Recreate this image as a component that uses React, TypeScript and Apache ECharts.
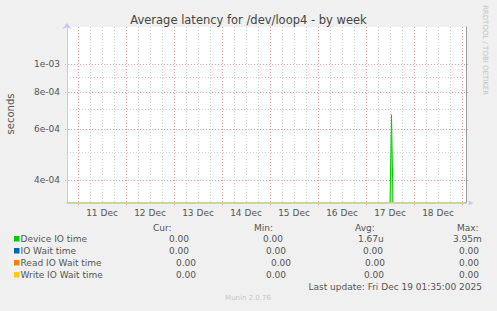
import React, { useEffect, useRef } from 'react';
import * as echarts from 'echarts';

// ---- data ----
const titleText = 'Average latency for /dev/loop4 - by week';
const yAxisTitle = 'seconds';
const sideText = 'RRDTOOL / TOBI OETIKER';
const footerText = 'Munin 2.0.76';
const lastUpdate = 'Last update: Fri Dec 19 01:35:00 2025';

const rangeStart = '2025-12-10T18:30:00Z';
const rangeEnd = '2025-12-19T02:00:00Z';
const yMinValue = 3.336e-4;
const yMaxValue = 1.34e-3;

const dayLabels = ['11 Dec', '12 Dec', '13 Dec', '14 Dec', '15 Dec', '16 Dec', '17 Dec', '18 Dec'];
const dayLabelTimes = [
  '2025-12-11T12:00:00Z', '2025-12-12T12:00:00Z', '2025-12-13T12:00:00Z', '2025-12-14T12:00:00Z',
  '2025-12-15T12:00:00Z', '2025-12-16T12:00:00Z', '2025-12-17T12:00:00Z', '2025-12-18T12:00:00Z',
];
const majorYValues = [1e-3, 8e-4, 6e-4, 4e-4];
const majorYLabels = ['1e-03', '8e-04', '6e-04', '4e-04'];
const minorYValues = [9e-4, 7e-4, 5e-4];

const deviceTimes = [
  '2025-12-10T18:30:00Z', '2025-12-17T12:00:00Z', '2025-12-17T12:45:00Z',
  '2025-12-17T13:30:00Z', '2025-12-19T02:00:00Z',
];
const deviceValues = [0, 0, 6.7e-4, 0, 0];

const seriesNames = ['Device IO time', 'IO Wait time', 'Read IO Wait time', 'Write IO Wait time'];
const seriesColors = ['#00cc00', '#0066b3', '#ff8000', '#ffcc00'];
const curValues = ['0.00', '0.00', '0.00', '0.00'];
const minValues = ['0.00', '0.00', '0.00', '0.00'];
const avgValues = ['1.67u', '0.00', '0.00', '0.00'];
const maxValues = ['3.95m', '0.00', '0.00', '0.00'];

// ---- layout / style ----
const FONT = 'DejaVu Sans';
const HOUR = 3600 * 1000;
const RED_GRID = '#f4a0a0';
const GRAY_GRID = '#d0d0d0';

export default function App() {
  const ref = useRef<HTMLDivElement>(null);

  useEffect(() => {
    if (!ref.current) return;
    const chart = echarts.init(ref.current, undefined, { renderer: 'svg' });
    const xMin = Date.parse(rangeStart);
    const xMax = Date.parse(rangeEnd);

    const deviceData = deviceTimes.map((t, i) => [Date.parse(t), Math.max(deviceValues[i], yMinValue)]);

    chart.setOption({
      animation: false,
      backgroundColor: '#f0f0f0',
      textStyle: { fontFamily: FONT },
      grid: {
        left: 67, top: 27, width: 399, height: 176,
        show: true, backgroundColor: '#ffffff', borderWidth: 0,
      },
      xAxis: {
        type: 'value', min: xMin, max: xMax, z: 5,
        axisLine: { show: true, lineStyle: { color: '#dcd0a0', width: 1.5 } },
        axisTick: { show: false }, axisLabel: { show: false }, splitLine: { show: false },
      },
      yAxis: [
        {
          type: 'log', logBase: 10, min: yMinValue, max: yMaxValue, z: 5,
          axisLine: {
            show: true, lineStyle: { color: '#c8c8f4', width: 1 },
            symbol: ['none', 'arrow'], symbolSize: [7, 6], symbolOffset: [0, 4],
          },
          axisTick: { show: false }, axisLabel: { show: false }, splitLine: { show: false },
        },
        {
          type: 'value', position: 'right', min: 0, max: 1, z: 5,
          axisLine: { show: true, lineStyle: { color: '#999999', width: 1 } },
          axisTick: { show: false }, axisLabel: { show: false }, splitLine: { show: false },
        },
      ],
      series: [
        {
          type: 'line', name: seriesNames[0], data: deviceData, showSymbol: false,
          lineStyle: { color: seriesColors[0], width: 1 },
          areaStyle: { color: '#66dd66', origin: 'start' },
          z: 2,
        },
      ],
    });

    const px = (t: number) => chart.convertToPixel({ xAxisIndex: 0 }, t) as number;
    const py = (v: number) => chart.convertToPixel({ yAxisIndex: 0 }, v) as number;
    const txt = (text: string, x: number, y: number, o: any = {}) => ({
      type: 'text', x, y, rotation: o.rotation || 0, silent: true, z: 10,
      style: {
        text, fontFamily: FONT, fontSize: o.size || 9, fill: o.color || '#555555',
        align: o.align || 'left', verticalAlign: 'middle',
      },
    });
    const gl = (x1: number, y1: number, x2: number, y2: number, color: string) => ({
      type: 'line', silent: true, z: 1,
      shape: { x1, y1, x2, y2 },
      style: { stroke: color, fill: null, lineWidth: 1, lineDash: [1, 2] },
    });

    const top = py(yMaxValue);
    const bottom = py(yMinValue);
    const left = px(xMin);
    const right = px(xMax);

    const g: any[] = [];
    // vertical grid lines every 6h, red at midnight
    for (let t = Math.ceil(xMin / (6 * HOUR)) * 6 * HOUR; t < xMax; t += 6 * HOUR) {
      const major = t % (24 * HOUR) === 0;
      const x = Math.round(px(t)) + 0.5;
      g.push(gl(x, top, x, major ? bottom + 3 : bottom, major ? RED_GRID : GRAY_GRID));
    }
    minorYValues.forEach((v) => {
      const y = Math.round(py(v)) + 0.5;
      g.push(gl(left, y, right, y, GRAY_GRID));
    });
    majorYValues.forEach((v) => {
      const y = Math.round(py(v)) + 0.5;
      g.push(gl(left - 2, y, right + 3, y, RED_GRID));
    });

    g.push(txt(titleText, 248.5, 20, { size: 11.5, color: '#444444', align: 'center' }));
    g.push(txt(yAxisTitle, 10.5, 114, { size: 10, rotation: Math.PI / 2, align: 'center' }));
    g.push(txt(sideText, 485, 5, { size: 7, color: '#c4c4c4', rotation: -Math.PI / 2 }));
    majorYLabels.forEach((l, i) => g.push(txt(l, 60, py(majorYValues[i]), { align: 'right' })));
    dayLabels.forEach((l, i) => g.push(txt(l, px(Date.parse(dayLabelTimes[i])), 213, { align: 'center' })));
    g.push({
      type: 'polygon', silent: true, z: 10,
      shape: { points: [[468.5, 200.5], [473.5, 203], [468.5, 205.5]] },
      style: { fill: '#c8c8f4' },
    });

    // legend table
    const rowY = [239, 251, 263, 275];
    const curX = [169, 169, 176, 176];
    const minX = [263, 266, 271, 266];
    const avgX = [358, 363, 365, 364];
    const maxX = [453, 459, 459, 459];
    g.push(txt('Cur:', 153, 227.5));
    g.push(txt('Min:', 254, 227.5));
    g.push(txt('Avg:', 355, 227.5));
    g.push(txt('Max:', 457, 227.5));
    seriesNames.forEach((n, i) => {
      g.push({
        type: 'rect', silent: true, z: 10,
        shape: { x: 14, y: rowY[i] - 3, width: 5.5, height: 5.5 },
        style: { fill: seriesColors[i] },
      });
      g.push(txt(n, 20.5, rowY[i]));
      g.push(txt(curValues[i], curX[i], rowY[i]));
      g.push(txt(minValues[i], minX[i], rowY[i]));
      g.push(txt(avgValues[i], avgX[i], rowY[i]));
      g.push(txt(maxValues[i], maxX[i], rowY[i]));
    });
    g.push(txt(lastUpdate, 482, 287, { align: 'right' }));
    g.push(txt(footerText, 248, 298, { size: 7, color: '#c8c8c8', align: 'center' }));

    chart.setOption({ graphic: g });

    return () => chart.dispose();
  }, []);

  return (
    <div
      ref={ref}
      style={{ position: 'fixed', left: 0, top: 0, width: 497, height: 311 }}
    />
  );
}
